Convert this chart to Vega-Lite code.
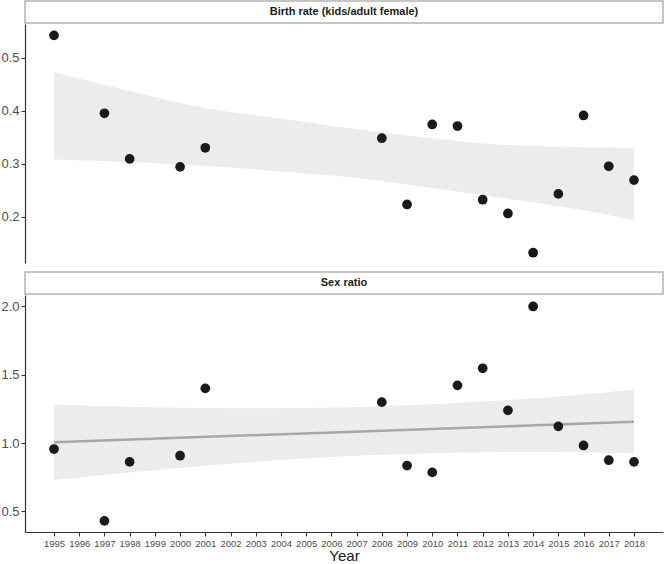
{
  "$schema": "https://vega.github.io/schema/vega-lite/v6.json",
  "padding": {"left": 0, "top": 0, "right": 1, "bottom": 0},
  "autosize": {"type": "pad"},
  "background": "white",
  "config": {
    "font": "Liberation Sans",
    "concat": {"spacing": 8},
    "axis": {"grid": false, "domainColor": "#333333", "domainWidth": 1.2, "tickColor": "#333333", "tickWidth": 1.1, "tickSize": 4, "labelColor": "#4d4d4d", "labelPadding": 2},
    "axisX": {"labelOverlap": false, "labelFlush": false, "labelBound": false}
  },
  "datasets": {
    "birth": [
      {"year": 1995, "value": 0.542}, {"year": 1997, "value": 0.395}, {"year": 1998, "value": 0.309},
      {"year": 2000, "value": 0.294}, {"year": 2001, "value": 0.330}, {"year": 2008, "value": 0.348},
      {"year": 2009, "value": 0.223}, {"year": 2010, "value": 0.374}, {"year": 2011, "value": 0.371},
      {"year": 2012, "value": 0.232}, {"year": 2013, "value": 0.206}, {"year": 2014, "value": 0.132},
      {"year": 2015, "value": 0.243}, {"year": 2016, "value": 0.391}, {"year": 2017, "value": 0.295},
      {"year": 2018, "value": 0.269}
    ],
    "birthBand": [
      {"year": 1995, "lo": 0.308, "hi": 0.473}, {"year": 1998, "lo": 0.303, "hi": 0.437},
      {"year": 2001, "lo": 0.296, "hi": 0.405}, {"year": 2004, "lo": 0.285, "hi": 0.385},
      {"year": 2007, "lo": 0.273, "hi": 0.365}, {"year": 2010, "lo": 0.254, "hi": 0.348},
      {"year": 2013, "lo": 0.234, "hi": 0.335}, {"year": 2016, "lo": 0.212, "hi": 0.331},
      {"year": 2018, "lo": 0.193, "hi": 0.330}
    ],
    "sex": [
      {"year": 1995, "value": 0.957}, {"year": 1997, "value": 0.431}, {"year": 1998, "value": 0.863},
      {"year": 2000, "value": 0.908}, {"year": 2001, "value": 1.401}, {"year": 2008, "value": 1.300},
      {"year": 2009, "value": 0.836}, {"year": 2010, "value": 0.786}, {"year": 2011, "value": 1.423},
      {"year": 2012, "value": 1.548}, {"year": 2013, "value": 1.240}, {"year": 2014, "value": 2.000},
      {"year": 2015, "value": 1.123}, {"year": 2016, "value": 0.983}, {"year": 2017, "value": 0.875},
      {"year": 2018, "value": 0.863}
    ],
    "sexBand": [
      {"year": 1995, "lo": 0.731, "hi": 1.283}, {"year": 1998, "lo": 0.785, "hi": 1.267},
      {"year": 2001, "lo": 0.835, "hi": 1.258}, {"year": 2004, "lo": 0.877, "hi": 1.256},
      {"year": 2007, "lo": 0.908, "hi": 1.264}, {"year": 2010, "lo": 0.926, "hi": 1.285},
      {"year": 2013, "lo": 0.935, "hi": 1.315}, {"year": 2016, "lo": 0.932, "hi": 1.356},
      {"year": 2018, "lo": 0.928, "hi": 1.392}
    ],
    "sexLine": [{"year": 1995, "value": 1.007}, {"year": 2018, "value": 1.156}],
    "strip1": [{"label": "Birth rate (kids/adult female)"}],
    "strip2": [{"label": "Sex ratio"}]
  },
  "vconcat": [
    {
      "spacing": 0,
      "vconcat": [
        {
          "width": 638, "height": 22,
          "data": {"name": "strip1"},
          "view": {"stroke": "#b3b3b3", "strokeWidth": 1.5, "fill": "white"},
          "mark": {"type": "text", "fontWeight": "bold", "fontSize": 11, "color": "#1a1a1a"},
          "encoding": {"text": {"field": "label"}}
        },
        {
          "width": 638, "height": 239,
          "view": {"stroke": null},
          "layer": [
            {
              "data": {"name": "birthBand"},
              "mark": {"type": "area", "color": "#ebeced", "opacity": 1, "interpolate": "monotone"},
              "encoding": {
                "x": {"field": "year", "type": "quantitative", "scale": {"domain": [1993.85, 2019.15], "nice": false, "zero": false}, "axis": null},
                "y": {"field": "lo", "type": "quantitative", "scale": {"domain": [0.1126, 0.5635], "nice": false, "zero": false},
                      "axis": {"title": null, "values": [0.2, 0.3, 0.4, 0.5], "format": ".1f", "labelFontSize": 13}},
                "y2": {"field": "hi"}
              }
            },
            {
              "data": {"name": "birth"},
              "mark": {"type": "circle", "size": 95, "color": "#1a1a1a", "opacity": 1},
              "encoding": {
                "x": {"field": "year", "type": "quantitative", "axis": null},
                "y": {"field": "value", "type": "quantitative"}
              }
            }
          ]
        }
      ]
    },
    {
      "spacing": 0,
      "vconcat": [
        {
          "width": 638, "height": 22,
          "data": {"name": "strip2"},
          "view": {"stroke": "#b3b3b3", "strokeWidth": 1.5, "fill": "white"},
          "mark": {"type": "text", "fontWeight": "bold", "fontSize": 11, "color": "#1a1a1a"},
          "encoding": {"text": {"field": "label"}}
        },
        {
          "width": 638, "height": 237,
          "view": {"stroke": null},
          "encoding": {
            "x": {"field": "year", "type": "quantitative", "scale": {"domain": [1993.85, 2019.15], "nice": false, "zero": false},
                  "axis": {"title": "Year", "titleFontSize": 15, "titleFontWeight": "normal", "titleColor": "#1a1a1a", "titlePadding": 1,
                           "values": [1995,1996,1997,1998,1999,2000,2001,2002,2003,2004,2005,2006,2007,2008,2009,2010,2011,2012,2013,2014,2015,2016,2017,2018],
                           "format": "d", "labelFontSize": 9.5, "labelOverlap": false, "labelPadding": 2}}
          },
          "layer": [
            {
              "data": {"name": "sexBand"},
              "mark": {"type": "area", "color": "#ebeced", "opacity": 1, "interpolate": "monotone"},
              "encoding": {
                "y": {"field": "lo", "type": "quantitative", "scale": {"domain": [0.35, 2.084], "nice": false, "zero": false},
                      "axis": {"title": null, "values": [0.5, 1.0, 1.5, 2.0], "format": ".1f", "labelFontSize": 13}},
                "y2": {"field": "hi"}
              }
            },
            {
              "data": {"name": "sexLine"},
              "mark": {"type": "line", "color": "#a6a6a6", "strokeWidth": 2.5},
              "encoding": {
                "y": {"field": "value", "type": "quantitative"}
              }
            },
            {
              "data": {"name": "sex"},
              "mark": {"type": "circle", "size": 95, "color": "#1a1a1a", "opacity": 1},
              "encoding": {
                "y": {"field": "value", "type": "quantitative"}
              }
            }
          ]
        }
      ]
    }
  ]
}
